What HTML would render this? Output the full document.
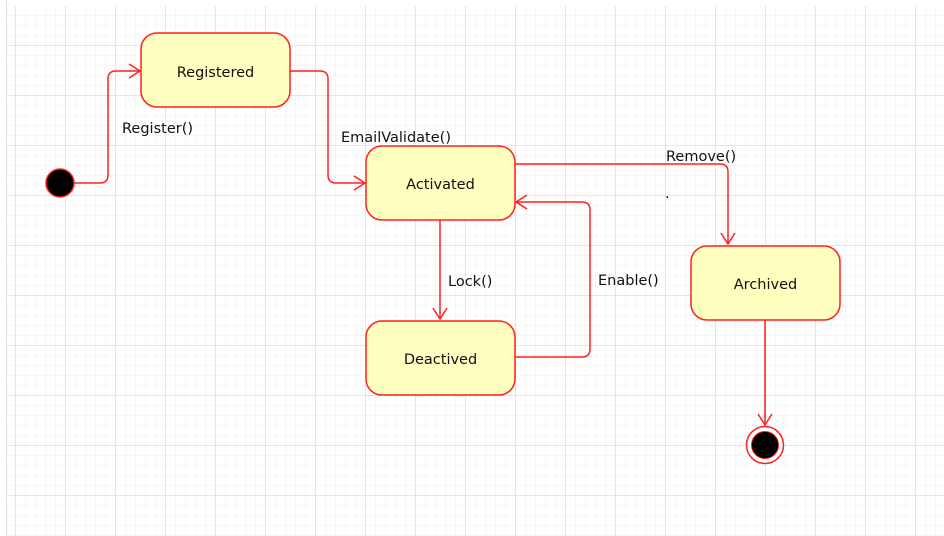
<!DOCTYPE html>
<html><head><meta charset="utf-8"><style>
html,body{margin:0;padding:0;background:#fff;}
svg{display:block;}
text{font-family:"DejaVu Sans","Liberation Sans",sans-serif;font-size:14.5px;fill:#111;}
</style></head><body>
<svg width="944" height="536" viewBox="0 0 944 536">
<defs>
<pattern id="minor" width="10" height="10" patternUnits="userSpaceOnUse" x="5" y="5">
<path d="M0 0H10M0 0V10" stroke="#eeeeee" stroke-width="1" fill="none"/>
</pattern>
<pattern id="major" width="50" height="50" patternUnits="userSpaceOnUse" x="15.5" y="45.5">
<path d="M0 0H50M0 0V50" stroke="#dcdcdc" stroke-width="1" fill="none"/>
</pattern>
</defs>
<rect x="6" y="6" width="938" height="530" fill="url(#minor)"/>
<rect x="6" y="6" width="938" height="530" fill="url(#major)"/>
<line x1="6.5" y1="0" x2="6.5" y2="536" stroke="#dcdcdc"/>

<g fill="none" stroke="#ff2020" stroke-width="1.5">
<path d="M74 183H100Q108 183 108 175V79Q108 71 116 71H140"/>
<path d="M129 64L140 71L129 78"/>
<path d="M290 71H320Q328 71 328 79V175Q328 183 336 183H365"/>
<path d="M354 176L365 183L354 190"/>
<path d="M515 164H720Q728 164 728 172V244"/>
<path d="M721 233L728 244L735 233"/>
<path d="M440 220V319"/>
<path d="M433 308L440 319L447 308"/>
<path d="M515 357H582Q590 357 590 349V210Q590 202 582 202H516"/>
<path d="M527 195L516 202L527 209"/>
<path d="M765 320V425"/>
<path d="M758 414L765 425L772 414"/>
</g>

<g fill="#ffffc0" stroke="#ff2020" stroke-width="1.5">
<rect x="141" y="33" width="149" height="74" rx="16"/>
<rect x="366" y="146" width="149" height="74" rx="16"/>
<rect x="366" y="321" width="149" height="74" rx="16"/>
<rect x="691" y="246" width="149" height="74" rx="16"/>
</g>
<text x="215.5" y="77" text-anchor="middle">Registered</text>
<text x="440.5" y="189" text-anchor="middle">Activated</text>
<text x="440.5" y="364" text-anchor="middle">Deactived</text>
<text x="765.5" y="289" text-anchor="middle">Archived</text>

<circle cx="60" cy="183" r="14" fill="#000" stroke="#ff2020" stroke-width="1.5"/>
<circle cx="765" cy="445" r="18.5" fill="#fff" stroke="#ff2020" stroke-width="1.5"/>
<circle cx="765" cy="445" r="13.5" fill="#000" stroke="#ff2020" stroke-width="1"/>

<text x="122" y="133">Register()</text>
<text x="341" y="142">EmailValidate()</text>
<text x="666" y="161">Remove()</text>
<text x="665" y="198">.</text>
<text x="448" y="286">Lock()</text>
<text x="598" y="285">Enable()</text>
</svg>
</body></html>
